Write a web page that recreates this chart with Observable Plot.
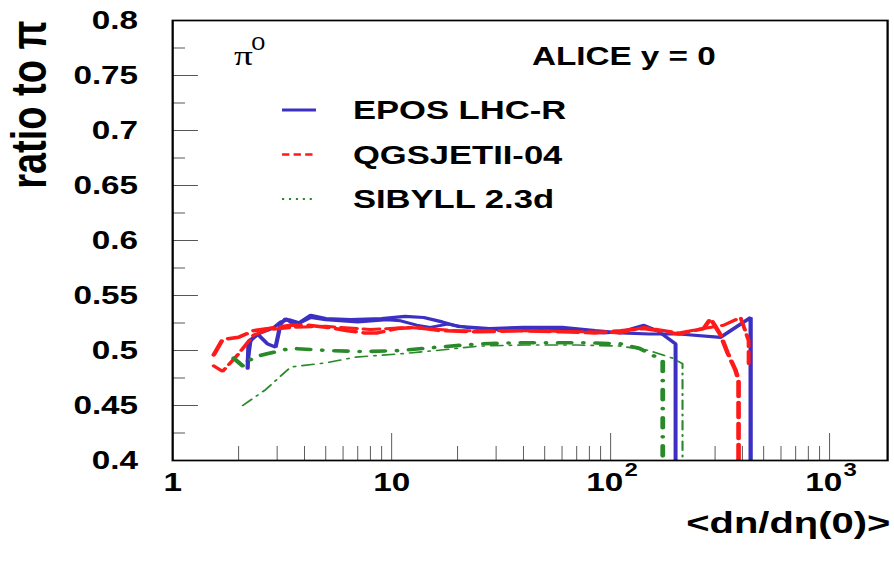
<!DOCTYPE html>
<html>
<head>
<meta charset="utf-8">
<script src="https://cdn.jsdelivr.net/npm/d3@7"></script>
<script src="https://cdn.jsdelivr.net/npm/@observablehq/plot@0.6"></script>
<style>
  html, body { margin: 0; padding: 0; background: #fff; }
  #chart svg { display: block; }
</style>
</head>
<body>
<div id="chart"></div>
<script>
// π0 / π ratio at mid-rapidity versus <dn/dη(0)>, for three hadronic interaction models.
// Each model is shown with two curves (thick and thin).

// EPOS LHC-R
const eposA = [[2.2,0.484],[2.22,0.507],[2.44,0.515],[2.71,0.506],[2.95,0.503],[3.11,0.524],[3.28,0.529],[3.64,0.523],[4.27,0.532],[5.0,0.529],[6.5,0.528],[9,0.529],[11.5,0.531],[14,0.530],[17,0.526],[20,0.522],[28,0.520],[40,0.521],[60,0.521],[85,0.518],[111,0.516],[150,0.515],[205,0.515],[318,0.512],[436,0.530],[436,0.4]];
const eposB = [[2.2,0.490],[2.27,0.510],[2.52,0.516],[2.86,0.520],[3.11,0.526],[3.4,0.528],[3.8,0.525],[4.27,0.530],[5,0.528],[7,0.526],[9.5,0.528],[11,0.527],[13,0.523],[15,0.521],[18,0.524],[22,0.521],[30,0.519],[45,0.520],[65,0.519],[93,0.516],[111,0.517],[142,0.523],[164,0.518],[198,0.506],[198,0.4]];

// QGSJETII-04
const qgsA = [[1.54,0.496],[1.69,0.510],[2.0,0.512],[2.34,0.518],[2.74,0.520],[3.46,0.523],[4.13,0.523],[5.1,0.521],[6.3,0.518],[7.45,0.516],[8.6,0.516],[10.6,0.520],[13,0.521],[16.7,0.518],[25,0.517],[40,0.518],[60,0.517],[85,0.516],[111,0.518],[142,0.520],[205,0.515],[266,0.520],[286,0.529],[318,0.514],[342,0.498],[372,0.482],[384,0.473],[384,0.4]];
const qgsB = [[1.54,0.486],[1.69,0.481],[2.0,0.497],[2.34,0.514],[2.74,0.519],[3.5,0.521],[5,0.522],[8,0.519],[12,0.521],[20,0.518],[40,0.518],[80,0.517],[111,0.516],[142,0.521],[205,0.516],[266,0.520],[328,0.523],[392,0.530],[427,0.509],[427,0.486]];

// SIBYLL 2.3d
const sibA = [[1.9,0.493],[2.09,0.486],[2.35,0.494],[2.7,0.497],[3.46,0.502],[5.1,0.500],[7.4,0.499],[11,0.500],[16,0.503],[25,0.506],[37,0.507],[54,0.507],[81,0.507],[111,0.506],[135,0.502],[173,0.491],[173,0.4]];
const sibB = [[2.09,0.450],[2.66,0.4645],[3.46,0.485],[5.1,0.489],[6.85,0.494],[11,0.497],[16,0.500],[25,0.504],[40,0.505],[70,0.505],[111,0.504],[150,0.500],[192,0.493],[213,0.488],[213,0.4]];

// Axes
const xDomain = [1, 1841];
const yDomain = [0.4, 0.8];
const yMajorTicks = [0.4, 0.45, 0.5, 0.55, 0.6, 0.65, 0.7, 0.75, 0.8];
const yTickLabels = ["0.4", "0.45", "0.5", "0.55", "0.6", "0.65", "0.7", "0.75", "0.8"];
const yMinorTicks = [0.425, 0.475, 0.525, 0.575, 0.625, 0.675, 0.725, 0.775];
const xMajorTicks = [10, 100, 1000];
const xMinorTicks = [2, 3, 4, 5, 6, 7, 8, 9].flatMap(m => [m, m * 10, m * 100]);
const xPlainLabels = [1, 10];
const xPowerLabels = [100, 1000];
const xPowerExponents = ["2", "3"];

const legendNames = ["EPOS LHC-R", "QGSJETII-04", "SIBYLL 2.3d"];
const colors = { epos: "#3b30c2", qgs: "#ff1a1a", sib: "#2a8a2a" };

// The drawing is laid out in a narrower coordinate space and then widened to 894 px.
const W = 672, H = 562;
const outW = 894;
const frameLeft = 129.3, frameRight = 666.7, frameTop = 20, frameBottom = 460;
const innerW = frameRight - frameLeft, innerH = frameBottom - frameTop;
const sans = "'Liberation Sans', Arial, Helvetica, sans-serif";
const serif = "'Liberation Serif', 'Times New Roman', serif";

const xy = { x: d => d[0], y: d => d[1] };

const svg = Plot.plot({
  width: W,
  height: H,
  marginLeft: frameLeft,
  marginRight: W - frameRight,
  marginTop: frameTop,
  marginBottom: H - frameBottom,
  x: { type: "log", domain: xDomain, axis: null },
  y: { domain: yDomain, axis: null },
  style: { fontFamily: sans, background: "white", color: "black", overflow: "visible" },
  marks: [
    // inward tick marks
    Plot.tickY(yMajorTicks, { y: d => d, insetRight: innerW - 19.5, stroke: "#444", strokeWidth: 0.9 }),
    Plot.tickY(yMinorTicks, { y: d => d, insetRight: innerW - 9.8, stroke: "#444", strokeWidth: 0.9 }),
    Plot.tickX(xMajorTicks, { x: d => d, insetTop: innerH - 27, stroke: "#444", strokeWidth: 0.75 }),
    Plot.tickX(xMinorTicks, { x: d => d, insetTop: innerH - 14, stroke: "#444", strokeWidth: 0.75 }),

    // model curves
    Plot.line(eposB, { ...xy, stroke: colors.epos, strokeWidth: 3, strokeLinejoin: "miter", clip: true }),
    Plot.line(eposA, { ...xy, stroke: colors.epos, strokeWidth: 3.2, strokeLinejoin: "miter", clip: true }),
    Plot.line(qgsB, { ...xy, stroke: colors.qgs, strokeWidth: 3, strokeDasharray: "12,5", strokeLinejoin: "miter", clip: true }),
    Plot.line(qgsA, { ...xy, stroke: colors.qgs, strokeWidth: 3.5, strokeDasharray: "15,6", strokeLinejoin: "miter", clip: true }),
    Plot.line(sibB, { ...xy, stroke: colors.sib, strokeWidth: 1.6, strokeDasharray: "9,5,1.5,5", clip: true }),
    Plot.line(sibA, { ...xy, stroke: colors.sib, strokeWidth: 3.6, strokeDasharray: "10,9,0.1,9", strokeLinecap: "round", clip: true }),

    Plot.frame({ stroke: "black", strokeWidth: 1.7 }),

    // y tick labels
    Plot.text(yMajorTicks, { y: d => d, text: (d, i) => yTickLabels[i], frameAnchor: "left", textAnchor: "end", dx: -26, fontSize: 25, fontWeight: "bold" }),
    // x tick labels
    Plot.text(xPlainLabels, { x: d => d, text: d => String(d), frameAnchor: "bottom", dy: 30, fontSize: 25, fontWeight: "bold" }),
    Plot.text(xPowerLabels, { x: d => d, text: () => "10", frameAnchor: "bottom", textAnchor: "end", dx: 9.5, dy: 30, fontSize: 25, fontWeight: "bold" }),
    Plot.text(xPowerLabels, { x: d => d, text: (d, i) => xPowerExponents[i], frameAnchor: "bottom", textAnchor: "start", dx: 10.5, dy: 15, fontSize: 18, fontWeight: "bold" }),

    // axis titles
    Plot.text(["ratio to π"], { frameAnchor: "top-left", rotate: -90, textAnchor: "end", dx: -122, dy: 0, fontSize: 38, fontWeight: "bold" }),
    Plot.text(["<dn/dη(0)>"], { frameAnchor: "bottom-right", textAnchor: "end", dx: 2, dy: 72, fontSize: 30, fontWeight: "bold" }),

    // annotations inside the frame
    Plot.text(["π"], { frameAnchor: "top-left", textAnchor: "start", dx: 46, dy: 25, fontSize: 28, fontFamily: serif }),
    Plot.text(["0"], { frameAnchor: "top-left", textAnchor: "start", dx: 59, dy: 16, fontSize: 19 }),
    Plot.text(["ALICE y = 0"], { frameAnchor: "top-left", textAnchor: "start", dx: 270, dy: 27, fontSize: 25, fontWeight: "bold" })
  ]
});

// legend
const legendStyles = [
  { color: colors.epos, width: 3, dash: null },
  { color: colors.qgs, width: 2.6, dash: "5.5,3.2" },
  { color: colors.sib, width: 1.8, dash: "1.6,3.6" }
];
const lg = d3.select(svg).append("g").attr("text-anchor", "start");
legendNames.forEach((name, i) => {
  const y = 110 + i * 44.5;
  const s = legendStyles[i];
  lg.append("line")
    .attr("x1", 212).attr("x2", 237.5).attr("y1", y).attr("y2", y)
    .attr("stroke", s.color).attr("stroke-width", s.width)
    .attr("stroke-dasharray", s.dash);
  lg.append("text")
    .attr("x", 265.3).attr("y", y).attr("dy", "0.36em")
    .attr("text-anchor", "start")
    .attr("font-family", sans).attr("font-size", 26).attr("font-weight", "bold")
    .attr("fill", "black")
    .text(name);
});

// widen the drawing horizontally to the page width
svg.setAttribute("viewBox", `0 0 ${W} ${H}`);
svg.setAttribute("width", outW);
svg.setAttribute("height", H);
svg.setAttribute("preserveAspectRatio", "none");
svg.style.width = outW + "px";
svg.style.height = H + "px";
svg.style.maxWidth = "none";

document.getElementById("chart").appendChild(svg);
</script>
</body>
</html>
